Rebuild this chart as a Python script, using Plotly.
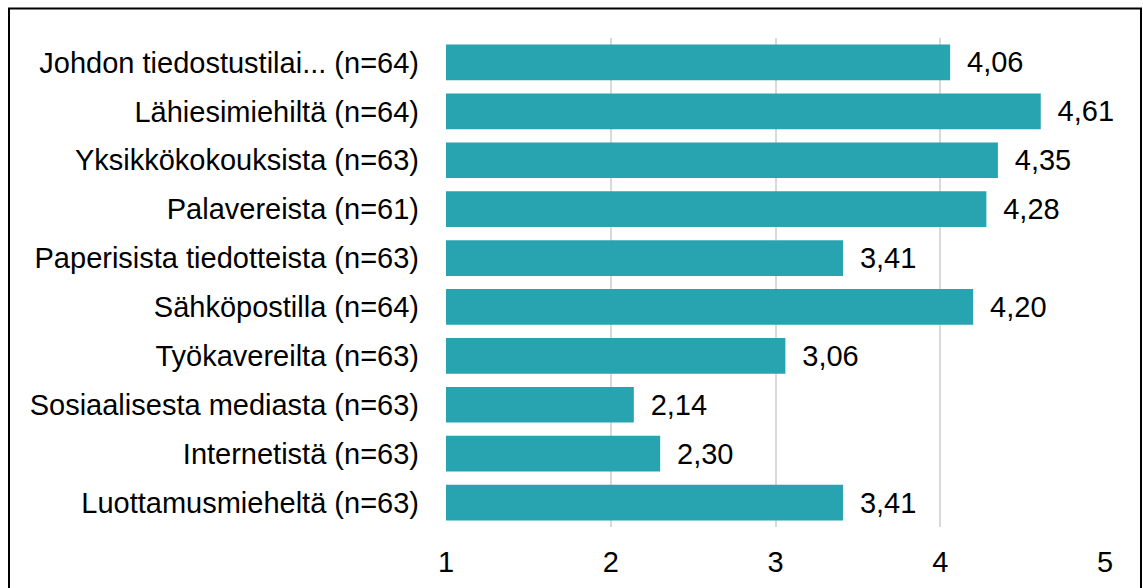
import plotly.graph_objects as go

categories = [
    "Johdon tiedostustilai... (n=64)",
    "Lähiesimiehiltä (n=64)",
    "Yksikkökokouksista (n=63)",
    "Palavereista (n=61)",
    "Paperisista tiedotteista (n=63)",
    "Sähköpostilla (n=64)",
    "Työkavereilta (n=63)",
    "Sosiaalisesta mediasta (n=63)",
    "Internetistä (n=63)",
    "Luottamusmieheltä (n=63)",
]
values = [4.06, 4.61, 4.35, 4.28, 3.41, 4.20, 3.06, 2.14, 2.30, 3.41]
x_ticks = [1, 2, 3, 4, 5]
axis_min, axis_max = 1, 5

W, H = 1143, 588
L, R, T, B = 446, 38, 37.5, 60.5
FONT = "Liberation Sans, Arial, sans-serif"
FS = 29

fig = go.Figure(go.Bar(
    y=categories,
    x=[v - axis_min for v in values],
    base=axis_min,
    orientation="h",
    customdata=values,
    texttemplate=" \u2009%{customdata:.2f}",
    textposition="outside",
    textfont=dict(size=FS, color="#000000", family=FONT),
    marker=dict(color="#28A4B0", line=dict(width=0)),
    width=0.73,
    cliponaxis=False,
    hoverinfo="skip",
))

pw = W - L - R
ph = H - T - B
def px_x(p):
    return (p - L) / pw
def px_y(p):
    return (H - B - p) / ph

fig.add_shape(type="rect", xref="paper", yref="paper",
              x0=px_x(9), x1=px_x(1141), y0=px_y(600), y1=px_y(8),
              line=dict(color="#000000", width=2), fillcolor="rgba(0,0,0,0)", layer="above")

fig.update_layout(
    width=W, height=H,
    margin=dict(l=L, r=R, t=T, b=B, pad=0, autoexpand=False),
    paper_bgcolor="white", plot_bgcolor="white",
    separators=", ",
    showlegend=False,
    font=dict(family=FONT, size=FS, color="#000000"),
    bargap=0.27,
)
fig.update_xaxes(
    range=[axis_min, axis_max], tickvals=x_ticks, ticktext=[str(t) for t in x_ticks],
    showgrid=True, gridcolor="#D9D9D9", gridwidth=1.5, zeroline=False,
    showline=False, ticks="", ticklabelstandoff=15, automargin=False,
    tickfont=dict(size=FS, family=FONT, color="#000000"),
)
fig.update_yaxes(
    autorange="reversed", showgrid=False, zeroline=False, showline=False, ticks="",
    ticklabelstandoff=26, automargin=False,
    tickfont=dict(size=FS, family=FONT, color="#000000"),
)

fig.write_html("out.html")
